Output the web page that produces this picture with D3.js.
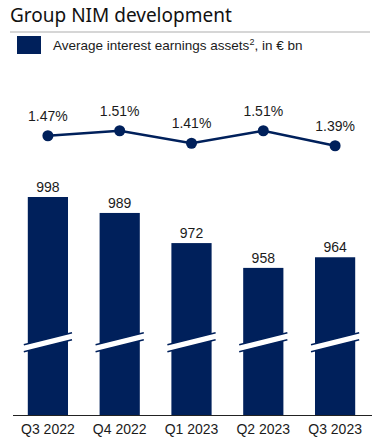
<!DOCTYPE html>
<html>
<head>
<meta charset="utf-8">
<script src="https://cdn.jsdelivr.net/npm/d3@7"></script>
<style>
  html,body{margin:0;padding:0;background:#fff;}
  svg{display:block;font-family:"Liberation Sans",Arial,sans-serif;}
</style>
</head>
<body>
<svg id="chart"></svg>
<script>
// data
const quarters = ["Q3 2022","Q4 2022","Q1 2023","Q2 2023","Q3 2023"];
const assets = [998, 989, 972, 958, 964];
const nim = [1.47, 1.51, 1.41, 1.51, 1.39];

let w=372;
let h=443;
const navy="#00205b";
const txt="#1b1b1b";

let svg=d3.select('#chart').attr('width',w).attr('height',h).attr('viewBox',`0 0 ${w} ${h}`);

// title + rule
svg.append('text')
  .attr('x',10).attr('y',22)
  .attr('font-size',19)
  .attr('font-family','"Noto Sans",sans-serif')
  .attr('fill','#111')
  .text('Group NIM development');

svg.append('line')
  .attr('x1',10).attr('x2',370)
  .attr('y1',32).attr('y2',32)
  .attr('stroke','#c8c8c8').attr('stroke-width',1.5);

// legend
svg.append('rect')
  .attr('x',17).attr('y',36).attr('width',24).attr('height',18)
  .attr('fill',navy);
let lt=svg.append('text')
  .attr('x',53).attr('y',50)
  .attr('font-size',13.5)
  .attr('fill',txt);
lt.append('tspan').text('Average interest earnings assets');
lt.append('tspan').attr('font-size',9).attr('dy',-5).text('2');
lt.append('tspan').attr('dy',5).text(', in € bn');

// scales
const x=d3.scaleBand()
  .domain(quarters)
  .range([12,371])
  .paddingInner(0.44)
  .paddingOuter(0.22);

// axis broken, so the base sits well above zero
const y=d3.scaleLinear()
  .domain([875,998])
  .range([415,197]);

const yLine=d3.scaleLinear()
  .domain([1.3,1.6])
  .range([157,119.5]);

// bars
svg.append('g')
  .selectAll('rect')
  .data(assets)
  .join('rect')
  .attr('x',(d,i)=>x(quarters[i]))
  .attr('width',x.bandwidth())
  .attr('y',d=>y(d))
  .attr('height',d=>y.range()[0]-y(d))
  .attr('fill',navy);

// bar labels
svg.append('g')
  .selectAll('text')
  .data(assets)
  .join('text')
  .attr('x',(d,i)=>x(quarters[i])+x.bandwidth()/2)
  .attr('y',d=>y(d)-5)
  .attr('text-anchor','middle')
  .attr('font-size',14)
  .attr('fill',txt)
  .text(d=>d);

// axis break marks
const breakVal=916;
const by=y(breakVal);
const slant=12;
const gap=3.5;
let brk=svg.append('g');
quarters.forEach(q=>{
  let x0=x(q)-4, x1=x(q)+x.bandwidth()+4;
  brk.append('path')
    .attr('d',`M${x0},${by+slant/2-gap}L${x1},${by-slant/2-gap}L${x1},${by-slant/2+gap}L${x0},${by+slant/2+gap}Z`)
    .attr('fill','#fff');
  [-gap,gap].forEach(o=>{
    brk.append('line')
      .attr('x1',x0).attr('y1',by+slant/2+o)
      .attr('x2',x1).attr('y2',by-slant/2+o)
      .attr('stroke',navy).attr('stroke-width',1.6);
  });
});

// x axis
let xAxis=svg.append('g')
  .attr('transform','translate(0,415)')
  .call(d3.axisBottom(x).tickSize(0).tickPadding(9));
xAxis.select('.domain').attr('d','M13,0.5H372').attr('stroke','#222');
xAxis.selectAll('text')
  .attr('font-size',14)
  .attr('font-family','"Liberation Sans",Arial,sans-serif')
  .attr('fill',txt);

// NIM line
const line=d3.line()
  .x((d,i)=>x(quarters[i])+x.bandwidth()/2)
  .y(d=>yLine(d));

svg.append('path')
  .datum(nim)
  .attr('d',line)
  .attr('fill','none')
  .attr('stroke',navy)
  .attr('stroke-width',2.5);

svg.append('g')
  .selectAll('circle')
  .data(nim)
  .join('circle')
  .attr('cx',(d,i)=>x(quarters[i])+x.bandwidth()/2)
  .attr('cy',d=>yLine(d))
  .attr('r',5.5)
  .attr('fill',navy);

svg.append('g')
  .selectAll('text')
  .data(nim)
  .join('text')
  .attr('x',(d,i)=>x(quarters[i])+x.bandwidth()/2)
  .attr('y',d=>yLine(d)-15)
  .attr('text-anchor','middle')
  .attr('font-size',14)
  .attr('fill',txt)
  .text(d=>d.toFixed(2)+'%');
</script>
</body>
</html>
